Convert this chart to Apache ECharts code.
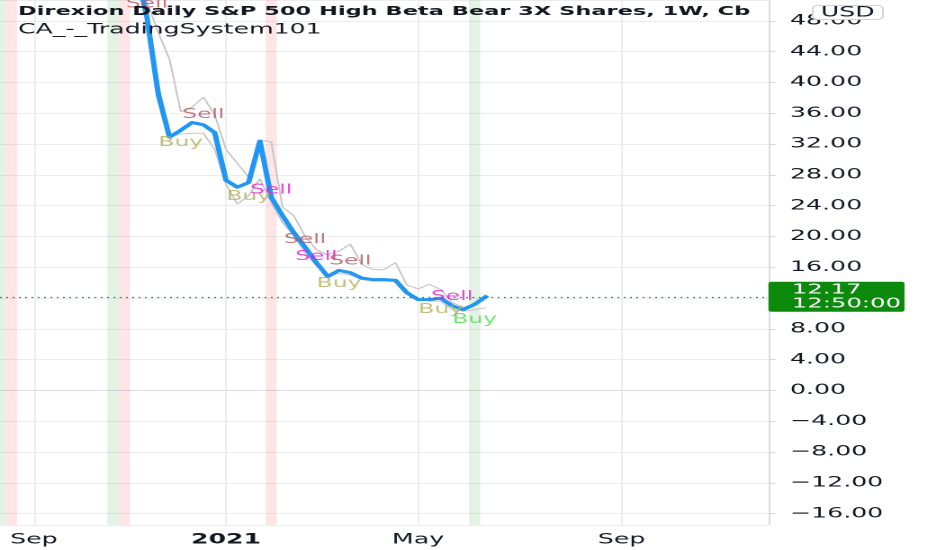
<!DOCTYPE html>
<html>
<head>
<meta charset="utf-8">
<title>SPHB 3X Bear weekly</title>
<script src="https://cdn.jsdelivr.net/npm/echarts@6/dist/echarts.min.js"></script>
<style>
  html, body { margin: 0; padding: 0; background: #fff; overflow: hidden; }
  /* the reference is a horizontally stretched snapshot, so draw narrow and stretch */
  #chart { width: 517.78px; height: 550px; transform: scaleX(1.8); transform-origin: 0 0; }
</style>
</head>
<body>
<div id="chart"></div>
<script>
// weekly bars (Monday of each week)
var weeks = [];
var d = new Date(Date.UTC(2020, 7, 17));
for (var i = 0; i < 69; i++) {
    weeks.push(d.toISOString().slice(0, 10));
    d.setUTCDate(d.getUTCDate() + 7);
}
var tickLabels = { '2020-09-07': 'Sep', '2021-01-04': '2021', '2021-05-03': 'May', '2021-09-06': 'Sep' };

// price lines, first value is the week of 2020-11-09
var priceStart = '2020-11-09';
var smoothLine = [55, 48.5, 38.5, 32.9, 33.8, 34.8, 34.5, 33.5, 27.3, 26.4, 27.0, 32.4, 25.1, 22.7, 20.5, 18.6,
    16.6, 14.8, 15.6, 15.3, 14.6, 14.4, 14.4, 14.3, 12.7, 11.8, 11.8, 12.0, 11.0, 10.5, 11.2, 12.17];
var upperLine = [57, 50.5, 46.5, 43, 36.2, 36.8, 38.1, 35.8, 31.3, 29.5, 27.7, 32.5, 32.3, 23.8, 22.7, 20.0,
    18.3, 17.6, 18.1, 19.0, 16.4, 15.7, 15.7, 16.6, 13.7, 13.2, 13.8, 13.1, 11.4, 10.8, 11.2, 12.5];
var lowerLine = [56, 49.5, 40, 33, 33.3, 33.4, 33.4, 31.3, 26.8, 24.2, 25.3, 27.5, 24.4, 21.8, 20.1, 17.9,
    16.2, 14.9, 15.2, 15.0, 14.4, 14.2, 14.2, 14.2, 12.6, 12.0, 11.6, 11.6, 10.5, 10.3, 10.5, 10.75];

// signal labels
var sigWeeks = ['2020-11-16', '2020-12-21', '2020-12-07', '2021-01-18', '2021-02-01', '2021-02-22',
    '2021-03-01', '2021-03-22', '2021-03-15', '2021-05-24', '2021-05-17', '2021-06-07'];
var sigValues = [50.2, 35.8, 32.2, 25.2, 26.0, 19.6, 17.4, 16.8, 13.9, 12.2, 10.5, 9.2];
var sigTexts = ['Sell', 'Sell', 'Buy', 'Buy', 'Sell', 'Sell', 'Sell', 'Sell', 'Buy', 'Sell', 'Buy', 'Buy'];
var sigKinds = ['sell1', 'sell1', 'buy1', 'buy1', 'sell2', 'sell1', 'sell2', 'sell1', 'buy1', 'sell2', 'buy1', 'buy2'];
var sigColors = { sell1: '#b5545c', sell2: '#e01fd0', buy1: '#b5ae5e', buy2: '#4fdc4f' };

// background highlight weeks
var greenWeeks = ['2020-08-17', '2020-10-26', '2021-06-07'];
var redWeeks = ['2020-08-24', '2020-11-02', '2021-02-01'];

var lastPrice = 12.17;
var lastTime = '12:50:00';
var yMin = -17.47, yMax = 50.71;

var off = weeks.indexOf(priceStart);
function lineData(vals) {
    return weeks.map(function (w, i) {
        var k = i - off;
        return (k >= 0 && k < vals.length) ? vals[k] : '-';
    });
}
function bandData(v) {
    return weeks.map(function (w) {
        if (greenWeeks.indexOf(w) >= 0) return { value: v, itemStyle: { color: 'rgba(76,175,80,0.16)' } };
        if (redWeeks.indexOf(w) >= 0) return { value: v, itemStyle: { color: 'rgba(255,82,82,0.15)' } };
        return '-';
    });
}
function tickShown(index, value) {
    return tickLabels[value] !== undefined;
}

var chart = echarts.init(document.getElementById('chart'), null, { devicePixelRatio: 2 });
var option = {
    animation: false,
    textStyle: { fontFamily: 'DejaVu Sans' },
    title: [{
        text: 'Direxion Daily S&P 500 High Beta Bear 3X Shares, 1W, Cb',
        left: 10, top: 5, padding: 0,
        textStyle: { fontSize: 12.5, fontWeight: 'bold', color: '#131722' }
    }, {
        text: 'CA_-_TradingSystem101',
        left: 10, top: 23, padding: 0,
        textStyle: { fontSize: 14, fontWeight: 'normal', color: '#131722' }
    }, {
        text: 'USD',
        left: 451, top: 5, padding: [1, 5, 0, 5],
        backgroundColor: '#fff', borderColor: '#d1d4dc', borderWidth: 1, borderRadius: 3,
        textStyle: { fontSize: 14, fontWeight: 'normal', color: '#131722' }
    }],
    grid: { left: 0, right: 91.1, top: 0, bottom: 25 },
    xAxis: {
        type: 'category',
        data: weeks,
        boundaryGap: false,
        axisLine: { lineStyle: { color: '#d9dce3', width: 1 } },
        axisTick: { show: false },
        axisLabel: {
            interval: tickShown,
            margin: 8,
            fontSize: 14,
            color: '#131722',
            formatter: function (v) {
                var t = tickLabels[v] || '';
                return t === '2021' ? '{b|' + t + '}' : t;
            },
            rich: { b: { fontWeight: 'bold', fontSize: 14, color: '#131722' } }
        },
        splitLine: { show: true, interval: tickShown, lineStyle: { color: '#ebedf1' } }
    },
    yAxis: {
        type: 'value',
        position: 'right',
        min: yMin,
        max: yMax,
        minInterval: 4,
        maxInterval: 4,
        axisLine: { show: true, lineStyle: { color: '#d9dce3', width: 1 } },
        axisTick: { show: true, length: 4, lineStyle: { color: '#d6d9e0' } },
        axisLabel: {
            showMinLabel: false,
            showMaxLabel: false,
            margin: 12,
            fontSize: 14,
            color: '#131722',
            formatter: function (v) {
                return v < 0 ? '\u2212' + Math.abs(v).toFixed(2) : v.toFixed(2);
            }
        },
        splitLine: { lineStyle: { color: '#ebedf1' } }
    },
    series: [{
        type: 'bar', silent: true, z: 1, barWidth: '100%', barGap: '-100%',
        data: bandData(yMax)
    }, {
        type: 'bar', silent: true, z: 1, barWidth: '100%', barGap: '-100%',
        data: bandData(yMin)
    }, {
        type: 'line', silent: true, z: 2, symbol: 'none',
        lineStyle: { color: '#c6c6c6', width: 1 },
        data: lineData(upperLine)
    }, {
        type: 'line', silent: true, z: 2, symbol: 'none',
        lineStyle: { color: '#c6c6c6', width: 1 },
        data: lineData(lowerLine)
    }, {
        type: 'line', silent: true, z: 4, symbol: 'none',
        lineStyle: { color: '#2196f3', width: 3, join: 'round', cap: 'round' },
        data: lineData(smoothLine),
        markLine: {
            silent: true,
            symbol: 'none',
            data: [{ yAxis: lastPrice }],
            lineStyle: { type: [1, 2.5], color: '#3b8a5c', width: 1.3 },
            label: {
                position: 'end',
                distance: 0,
                formatter: lastPrice.toFixed(2) + '\n' + lastTime,
                backgroundColor: '#0b8a0b',
                color: '#fff',
                fontSize: 13.5,
                lineHeight: 14,
                padding: [1, 2, 1, 13],
                borderRadius: 2,
                align: 'left'
            }
        }
    }, {
        type: 'scatter', silent: true, z: 5,
        symbolSize: 1,
        itemStyle: { color: 'rgba(0,0,0,0)' },
        label: {
            show: true,
            position: 'inside',
            fontSize: 13,
            formatter: function (p) { return sigTexts[p.dataIndex]; }
        },
        data: sigWeeks.map(function (w, i) {
            return { value: [w, sigValues[i]], label: { color: sigColors[sigKinds[i]] } };
        })
    }]
};
chart.setOption(option);
</script>
</body>
</html>
